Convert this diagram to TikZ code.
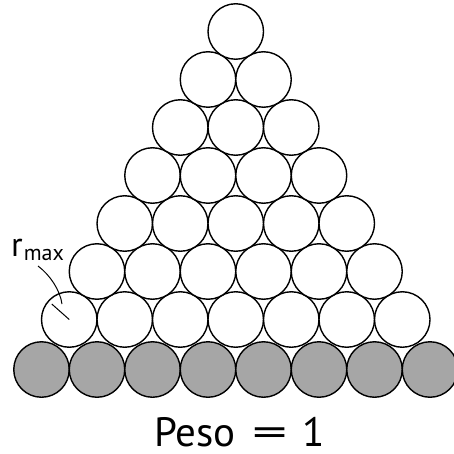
\documentclass[tikz,border=0pt]{standalone}
\usepackage{fontspec}
\setmainfont{PT Sans}
\usetikzlibrary{calc}
\definecolor{ballgray}{RGB}{166,166,166}
\begin{document}
\begin{tikzpicture}[x=1pt,y=-1pt,
  ball/.style={circle,draw=black,line width=1.4pt,minimum size=55.5pt,inner sep=0pt,fill=white},
  baseball/.style={ball,fill=ballgray},
  lbl/.style={inner sep=0pt,font=\fontsize{41}{44}\selectfont}]
\useasboundingbox (0,0) rectangle (454,454);
\clip (0,0) rectangle (454,454);
\foreach \i in {0,...,7}{
  \node[baseball] (g\i) at ({41.5+55.5*\i},369.5) {};
}
\foreach \k in {0,...,6}{
  \pgfmathtruncatemacro{\n}{6-\k}
  \foreach \i in {0,...,\n}{
    \node[ball] (w\k-\i) at ({69.25+27.75*\k+55.5*\i},{319.5-48*\k}) {};
  }
}
\coordinate (rend) at ($(w0-0.center)+(-17.5,-15.5)$);
\draw[line width=1pt] (w0-0.center) -- (rend);
\coordinate (lstart) at (38,266);
\coordinate (lend) at (62,304);
\draw[line width=1pt] (lstart) .. controls (50,275) and (60,290) .. (lend);
\node[anchor=base west,inner sep=0pt] (rmax) at (11,256) {\fontsize{34}{34}\selectfont r\hspace{1pt}\raisebox{-4pt}{\fontsize{22}{22}\selectfont max}};
\node[lbl,anchor=base west] (peso) at (154,446) {\makebox[76pt][l]{Peso}\hspace{22pt}\makebox[35pt]{\scalebox{1.7}[1]{=}}\hspace{15pt}1};
\end{tikzpicture}
\end{document}
